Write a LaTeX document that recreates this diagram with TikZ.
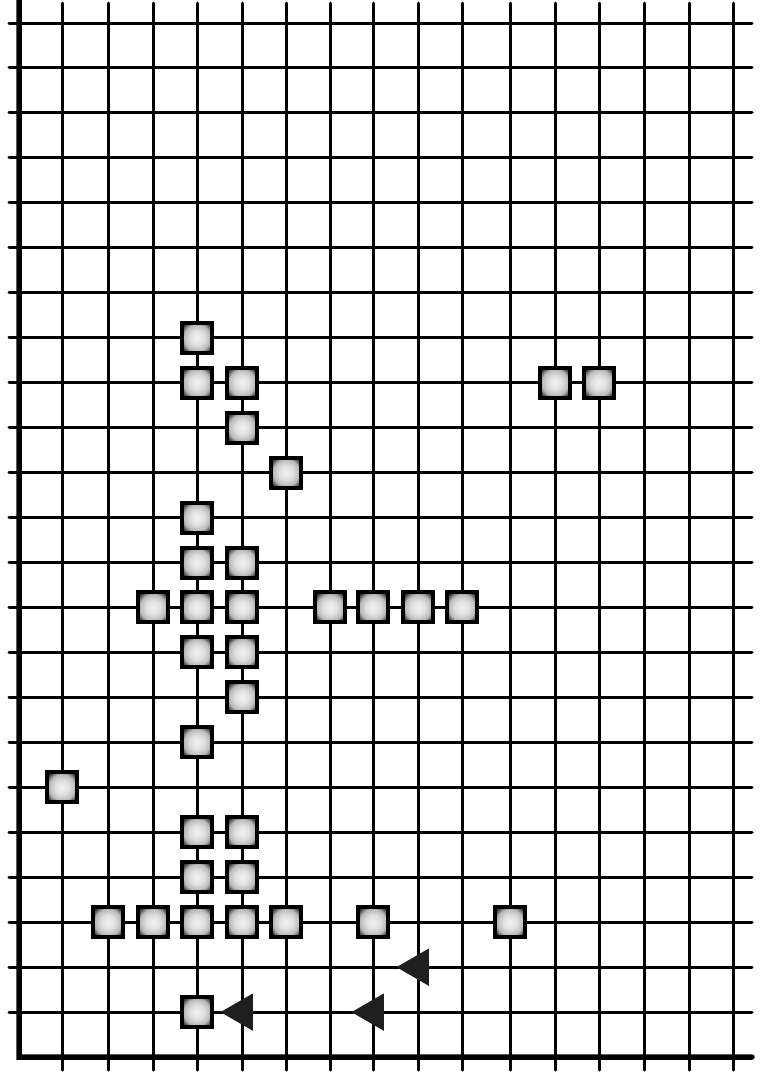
\documentclass[tikz,border=0pt]{standalone}
\usetikzlibrary{shapes.geometric}
\pgfdeclareradialshading{cellglow}{\pgfpoint{0bp}{0bp}}{color(0bp)=(gray!10); color(12bp)=(gray!25); color(22bp)=(gray!55); color(30bp)=(black!80); color(38bp)=(black); color(50bp)=(black)}
\begin{document}
\begin{tikzpicture}[x=1pt, y=-1pt,
  gridline/.style={black, line width=3pt, line cap=round},
  frame/.style={black, line width=5.5pt, line cap=round},
  cell/.style={rectangle, draw=black, line width=4pt, minimum size=30pt,
               inner sep=0pt, shading=cellglow},
  pointer/.style={regular polygon, regular polygon sides=3,
                  shape border rotate=90, minimum size=43pt,
                  inner sep=0pt, fill=black!88},
]
\useasboundingbox (0,0) rectangle (760,1072);
% columns are hand drawn, so their x is taken off the sheet
\foreach \c/\x in {0/19,1/62,2/108,3/153,4/197,5/242,6/286,7/330,8/373,
                   9/418,10/462,11/510,12/555,13/599,14/644,15/689,16/733}
  \coordinate (col\c) at (\x,3);
\foreach \r in {0,...,23}
  \coordinate (row\r) at (9,23+44.96*\r);
% grid
\foreach \c in {1,...,16}
  \draw[gridline] (col\c) -- ++(0,1067);
\foreach \r in {0,...,22}
  \draw[gridline] (row\r) -- ++(743,0);
\draw[frame] (19,0) -- (col0 |- row23) -- (752,1057);
% squares
\foreach \c/\r in {4/7, 4/8, 5/8, 12/8, 13/8, 5/9, 6/10, 4/11, 4/12, 5/12,
                   3/13, 4/13, 5/13, 7/13, 8/13, 9/13, 10/13, 4/14, 5/14,
                   5/15, 4/16, 1/17, 4/18, 5/18, 4/19, 5/19, 2/20, 3/20,
                   4/20, 5/20, 6/20, 8/20, 11/20, 4/22}
  \node[cell] (cell-\c-\r) at (col\c |- row\r) {};
% triangles
\foreach \c/\r in {5/22, 9/21, 8/22}
  \node[pointer] (tri-\c-\r) at (col\c |- row\r) {};
\end{tikzpicture}
\end{document}
